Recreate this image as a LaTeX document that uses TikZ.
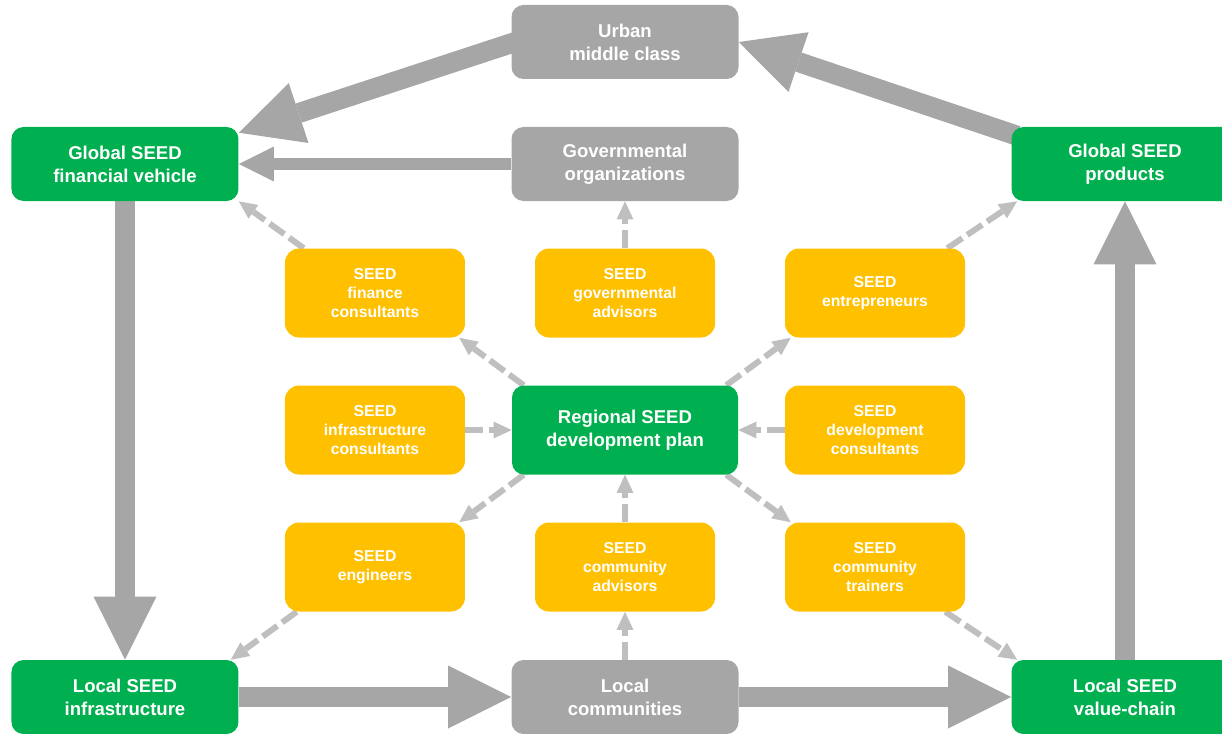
\documentclass[tikz,border=0pt]{standalone}
\usepackage{fontspec}
\setmainfont{Liberation Sans}
\usetikzlibrary{positioning,arrows.meta,backgrounds}
\definecolor{seedgreen}{HTML}{00B050}
\definecolor{seedyellow}{HTML}{FFC000}
\definecolor{seedgray}{HTML}{A6A6A6}
\definecolor{linkgray}{HTML}{BFBFBF}
\tikzset{
  bigbox/.style={rectangle,rounded corners=0.3cm,minimum width=5.675cm,minimum height=1.85cm,align=center,text=white,font=\fontsize{13.2pt}{16.4pt}\selectfont\bfseries},
  greenbox/.style={bigbox,fill=seedgreen},
  graybox/.style={bigbox,fill=seedgray},
  yellowbox/.style={rectangle,rounded corners=0.35cm,fill=seedyellow,minimum width=4.5cm,minimum height=2.225cm,align=center,text=white,font=\fontsize{11.2pt}{13.5pt}\selectfont\bfseries},
  flow/.style={draw=seedgray,line width=0.5cm,-{Triangle[width=1.575cm,length=1.575cm,line width=0pt]}},
  thinflow/.style={draw=seedgray,line width=0.3cm,-{Triangle[width=0.875cm,length=0.875cm,line width=0pt]}},
  link/.style={draw=linkgray,line width=0.15cm,dash pattern=on 0.45cm off 0.15cm,-{Triangle[width=0.42cm,length=0.45cm,line width=0pt]}}
}
\begin{document}
\begin{tikzpicture}[node distance=3.425cm and 6.25cm,on grid]
\clip (-15.625,-7.575) rectangle (14.925,10.75);
\node[greenbox,minimum width=5.65cm,minimum height=2.225cm] (plan) {Regional SEED\\development plan};
% SEED people round the plan
\node[yellowbox,above left=of plan] (fincons) {SEED\\finance\\consultants};
\node[yellowbox,above=of plan] (govadv) {SEED\\governmental\\advisors};
\node[yellowbox,above right=of plan] (entre) {SEED\\entrepreneurs};
\node[yellowbox,left=of plan] (infracons) {SEED\\infrastructure\\consultants};
\node[yellowbox,right=of plan] (devcons) {SEED\\development\\consultants};
\node[yellowbox,below left=of plan] (engin) {SEED\\engineers};
\node[yellowbox,below=of plan] (commadv) {SEED\\community\\advisors};
\node[yellowbox,below right=of plan] (trainer) {SEED\\community\\trainers};
% outer ring
\node[graybox,above=6.65cm of plan] (gov) {Governmental\\organizations};
\node[graybox,above=3.05cm of gov] (urban) {Urban\\middle class};
\node[greenbox,left=12.5cm of gov] (fin) {Global SEED\\financial vehicle};
\node[greenbox,right=12.5cm of gov] (prod) {Global SEED\\products};
\node[graybox,below=6.675cm of plan] (comm) {Local\\communities};
\node[greenbox,left=12.5cm of comm] (infra) {Local SEED\\infrastructure};
\node[greenbox,right=12.5cm of comm] (chain) {Local SEED\\value-chain};
\begin{scope}[on background layer]
\draw[flow] ([xshift=0.1cm]urban.west) -- ([yshift=-0.15cm]fin.north east);
\draw[thinflow] (gov) -- (fin);
\draw[flow] (fin) -- (infra);
\draw[flow] (infra) -- (comm);
\draw[flow] (comm) -- (chain);
\draw[flow] (chain) -- (prod);
\draw[flow] ([xshift=0.15cm,yshift=-0.225cm]prod.north west) -- (urban.east);
% dashed links
\draw[link] ([xshift=0.475cm]fincons.north west) -- (fin.south east);
\draw[link] ([xshift=0.3cm]plan.north west) -- ([xshift=-0.15cm]fincons.south east);
\draw[link] (govadv) -- (gov);
\draw[link] ([xshift=-0.45cm]entre.north east) -- ([xshift=0.15cm]prod.south west);
\draw[link] ([xshift=-0.3cm]plan.north east) -- ([xshift=0.15cm]entre.south west);
\draw[link] (infracons) -- (plan);
\draw[link] (devcons) -- (plan);
\draw[link] ([xshift=0.3cm]plan.south west) -- ([xshift=-0.15cm]engin.north east);
\draw[link] (commadv) -- (plan);
\draw[link] ([xshift=-0.3cm]plan.south east) -- ([xshift=0.15cm]trainer.north west);
\draw[link] (comm) -- (commadv);
\draw[link] ([xshift=0.3cm]engin.south west) -- ([xshift=-0.2cm]infra.north east);
\draw[link] ([xshift=-0.5cm]trainer.south east) -- ([xshift=0.15cm]chain.north west);
\end{scope}
\end{tikzpicture}
\end{document}
